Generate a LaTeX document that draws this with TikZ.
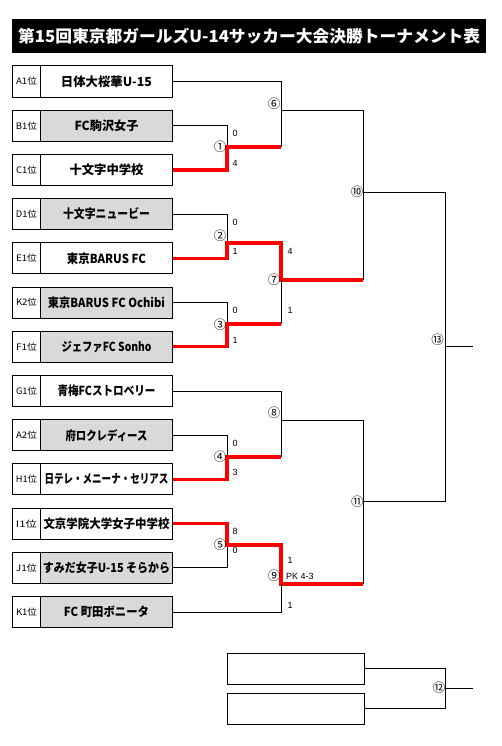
\documentclass[tikz,border=0pt]{standalone}
\usepackage{fontspec}
\setmainfont{Noto Sans CJK JP}
\newfontfamily\arialf{Liberation Sans}
\usepackage{graphicx}
\definecolor{boxgray}{RGB}{217,217,217}
\newcommand\fitw[2]{\resizebox{#1bp}{\height}{#2}}
\tikzset{
  lab/.style={draw, line width=1bp, minimum width=28bp, minimum height=31bp, inner sep=0pt, anchor=west, fill=white, font=\fontsize{9}{9}\selectfont},
  team/.style={draw, line width=1bp, minimum width=132bp, minimum height=31bp, inner sep=0pt, anchor=west, fill=white, font=\fontsize{12.5}{12.5}\selectfont\bfseries},
  shaded/.style={fill=boxgray},
  emptybox/.style={draw, line width=1bp, minimum width=137bp, minimum height=31bp, inner sep=0pt, anchor=north west},
  ln/.style={line width=1bp, black},
  win/.style={line width=3.2bp, red},
  num/.style={font=\fontsize{12.5}{12.5}\selectfont, inner sep=0pt},
  sc/.style={font=\arialf\fontsize{9}{9}\selectfont, inner sep=0pt},
}
\begin{document}
\begin{tikzpicture}[x=1bp,y=-1bp]
\fill[white] (0,0) rectangle (502,746);
\useasboundingbox (0,0) rectangle (502,746);

% title
\node[fill=black, minimum width=474bp, minimum height=34bp, inner sep=0pt, anchor=north west, text=white, font=\fontsize{16.5}{16.5}\selectfont\bfseries] (title) at (12,19) {\fitw{462}{第15回東京都ガールズU-14サッカー大会決勝トーナメント表}};

% match coordinates
\coordinate (m1) at (227,147);
\coordinate (m2) at (227,243);
\coordinate (m3) at (227,324);
\coordinate (m4) at (227,457);
\coordinate (m5) at (227,545);
\coordinate (m6) at (281,110);
\coordinate (m7) at (281,280);
\coordinate (m8) at (281,420);
\coordinate (m9) at (281,584);
\coordinate (m10) at (363,192);
\coordinate (m11) at (363,501.5);
\coordinate (m13) at (445.5,346);
\coordinate (o13) at (472.5,346);
\coordinate (m12) at (445.5,688);
\coordinate (o12) at (472.5,688);

% teams
\node[lab] (lA1) at (12,81.5) {\fitw{21}{A1位}};
\node[team] (tA1) at (40,81.5) {\fitw{91}{日体大桜華U-15}};
\node[lab] (lB1) at (12,125.7) {\fitw{21}{B1位}};
\node[team,shaded] (tB1) at (40,125.7) {\fitw{64}{FC駒沢女子}};
\node[lab] (lC1) at (12,169.9) {\fitw{21}{C1位}};
\node[team] (tC1) at (40,169.9) {\fitw{74}{十文字中学校}};
\node[lab] (lD1) at (12,214.1) {\fitw{21}{D1位}};
\node[team,shaded] (tD1) at (40,214.1) {\fitw{87}{十文字ニュービー}};
\node[lab] (lE1) at (12,258.3) {\fitw{21}{E1位}};
\node[team] (tE1) at (40,258.3) {\fitw{79}{東京BARUS FC}};
\node[lab] (lK2) at (12,302.5) {\fitw{21}{K2位}};
\node[team,shaded] (tK2) at (40,302.5) {\fitw{117}{東京BARUS FC Ochibi}};
\node[lab] (lF1) at (12,346.8) {\fitw{21}{F1位}};
\node[team,shaded] (tF1) at (40,346.8) {\fitw{90}{ジェファFC Sonho}};
\node[lab] (lG1) at (12,391.0) {\fitw{21}{G1位}};
\node[team] (tG1) at (40,391.0) {\fitw{98}{青梅FCストロベリー}};
\node[lab] (lA2) at (12,435.2) {\fitw{21}{A2位}};
\node[team,shaded] (tA2) at (40,435.2) {\fitw{82}{府ロクレディース}};
\node[lab] (lH1) at (12,479.4) {\fitw{21}{H1位}};
\node[team] (tH1) at (40,479.4) {\fitw{124}{日テレ・メニーナ・セリアス}};
\node[lab] (lI1) at (12,523.6) {\fitw{21}{I1位}};
\node[team] (tI1) at (40,523.6) {\fitw{126}{文京学院大学女子中学校}};
\node[lab] (lJ1) at (12,567.8) {\fitw{21}{J1位}};
\node[team,shaded] (tJ1) at (40,567.8) {\fitw{127}{すみだ女子U-15 そらから}};
\node[lab] (lK1) at (12,612.0) {\fitw{21}{K1位}};
\node[team,shaded] (tK1) at (40,612.0) {\fitw{85}{FC 町田ボニータ}};

% bottom empty boxes
\node[emptybox] (b1) at (226.5,652.5) {};
\node[emptybox] (b2) at (226.5,692.5) {};

% first round
\draw[ln] (tB1.east) -| (m1);
\draw[win] (tC1.east) -| (m1) -- (m1 -| m6);
\draw[ln] (tD1.east) -| (m2);
\draw[win] (tE1.east) -| (m2) -- (m2 -| m7) -- (m7) -- (m7 -| m10);
\draw[ln] (tK2.east) -| (m3);
\draw[win] (tF1.east) -| (m3) -- (m3 -| m7);
\draw[ln] (tA2.east) -| (m4);
\draw[win] (tH1.east) -| (m4) -- (m4 -| m8);
\draw[ln] (tJ1.east) -| (m5);
\draw[win] (tI1.east) -| (m5) -- (m5 -| m9) -- (m9) -- (m9 -| m11);

% second round
\draw[ln] (tA1.east) -| (m1 -| m6);
\draw[ln] (m6) -- (m6 -| m10);
\draw[ln] (m3 -| m7) -- (m7);
\draw[ln] (tG1.east) -| (m4 -| m8);
\draw[ln] (m8) -- (m8 -| m11);
\draw[ln] (tK1.east) -| (m9);

% semi and final
\draw[ln] (m6 -| m10) -- (m7 -| m10);
\draw[ln] (m10) -- (m10 -| m13);
\draw[ln] (m8 -| m11) -- (m9 -| m11);
\draw[ln] (m11) -- (m11 -| m13);
\draw[ln] (m10 -| m13) -- (m11 -| m13);
\draw[ln] (m13) -- (o13);
\draw[ln] (b1.east) -| (m12);
\draw[ln] (b2.east) -| (m12);
\draw[ln] (m12) -- (o12);

% match numbers
\node[num] (n1) at (220,147) {①};
\node[num] (n2) at (220,235.7) {②};
\node[num] (n3) at (220,324.3) {③};
\node[num] (n4) at (220,457) {④};
\node[num] (n5) at (220,545) {⑤};
\node[num] (n6) at (274,104) {⑥};
\node[num] (n7) at (274,280) {⑦};
\node[num] (n8) at (274,412.7) {⑧};
\node[num] (n9) at (274,576) {⑨};
\node[num] (n10) at (357,191.7) {⑩};
\node[num] (n11) at (357.3,501.3) {⑪};
\node[num] (n12) at (439,688) {⑫};
\node[num] (n13) at (437.7,339.3) {⑬};

% scores
\node[sc] (s1a) at (235,133.3) {0};
\node[sc] (s1b) at (235,163) {4};
\node[sc] (s2a) at (235,222) {0};
\node[sc] (s2b) at (235,251) {1};
\node[sc] (s7a) at (290,251.7) {4};
\node[sc] (s3a) at (235,310.7) {0};
\node[sc] (s3b) at (235,340) {1};
\node[sc] (s7b) at (290,310.7) {1};
\node[sc] (s4a) at (235,443.3) {0};
\node[sc] (s4b) at (235,472) {3};
\node[sc] (s5a) at (235,531.7) {8};
\node[sc] (s5b) at (235,550) {0};
\node[sc] (s9a) at (290,560) {1};
\node[sc, anchor=west] (s9pk) at (286,576) {PK 4-3};
\node[sc] (s9b) at (290,605) {1};
\end{tikzpicture}
\end{document}
